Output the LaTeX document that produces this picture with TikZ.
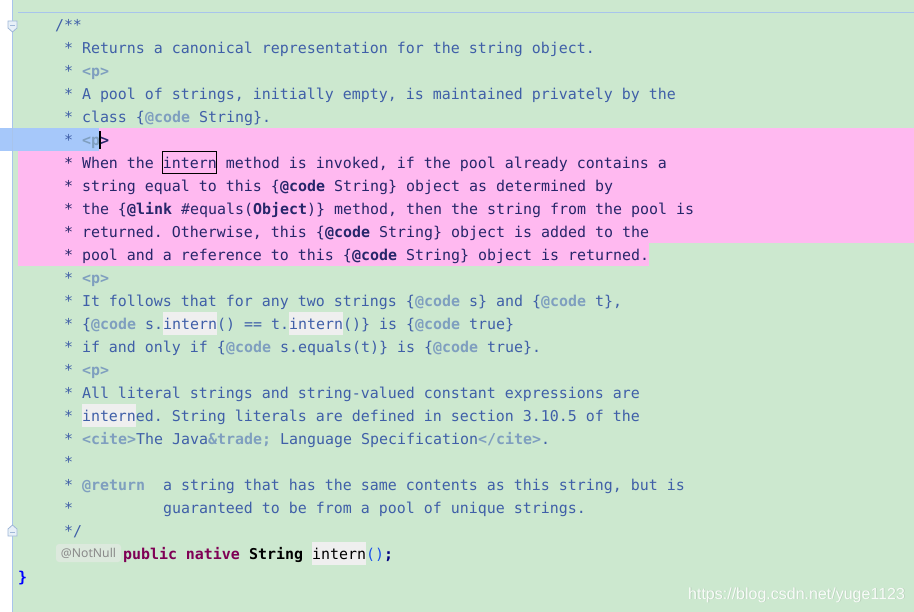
\documentclass[tikz,border=0pt]{standalone}
\usepackage{fontspec}
\setmonofont{DejaVu Sans Mono}
\newfontfamily\badgefont{Noto Sans}
\newfontfamily\wmfont{Liberation Sans}
\definecolor{bgc}{HTML}{CCE8CF}
\definecolor{pinkc}{HTML}{FFB9F0}
\definecolor{selc}{HTML}{A6C8FA}
\definecolor{docc}{HTML}{3F5FA8}
\definecolor{tagc}{HTML}{7F9FBF}
\definecolor{darkc}{HTML}{26266A}
\definecolor{kwc}{HTML}{7F0055}
\definecolor{hlc}{HTML}{EFEFEF}
\definecolor{guidec}{HTML}{A8C4EC}
\definecolor{parc}{HTML}{1750EB}
\definecolor{semic}{HTML}{000080}
\definecolor{bracec}{HTML}{0000FF}
\definecolor{badgec}{HTML}{DCE9DD}
\definecolor{badgetc}{HTML}{8A8A8A}
\definecolor{foldc}{HTML}{A0B8D8}
\definecolor{foldfc}{HTML}{E8F0F8}
\newcommand\codefont{\ttfamily\fontsize{14.95}{18}\selectfont\frenchspacing}
\newcommand\tg[1]{{\color{tagc}\bfseries #1}}
\newcommand\bd[1]{{\bfseries #1}}
\tikzset{
  ln/.style={anchor=base west, inner sep=0pt, outer sep=0pt, font=\codefont, text=docc},
  pk/.style={ln, text=darkc},
  fold/.style={draw=foldc, fill=foldfc, line width=0.8pt},
}
\begin{document}
\begin{tikzpicture}[x=1pt,y=-1pt]
\useasboundingbox (0,0) rectangle (914,612);
% backgrounds
\fill[bgc] (0,0) rectangle (914,612);
\fill[white] (0,0) rectangle (12,612);
\fill[pinkc] (18,128) rectangle (914,243);
\fill[pinkc] (18,243) rectangle (649,266);
\fill[selc] (0,128) rectangle (99,151);
\fill[hlc] (163,312) rectangle (217,335);
\fill[hlc] (289,312) rectangle (343,335);
\fill[hlc] (82,404) rectangle (136,427);
\fill[hlc] (312,542) rectangle (366,565);
% guides
\draw[guidec, line width=1pt] (12.5,0) -- (12.5,612);
\draw[guidec, line width=1pt] (18,12.5) -- (914,12.5);
% fold markers
\draw[fold] (8,21) -- (17,21) -- (17,28) -- (12.5,32) -- (8,28) -- cycle;
\draw[foldc, line width=0.8pt] (10,25) -- (15,25);
\draw[fold] (8,536) -- (17,536) -- (17,529) -- (12.5,525) -- (8,529) -- cycle;
\draw[foldc, line width=0.8pt] (10,532) -- (15,532);
% doc comment
\node[ln] (r0) at (55,30.3) {/**};
\node[ln] (r1) at (64,53.3) {* Returns a canonical representation for the string object.};
\node[ln] (r2) at (64,76.3) {* \tg{<p>}};
\node[ln] (r3) at (64,99.3) {* A pool of strings, initially empty, is maintained privately by the};
\node[ln] (r4) at (64,122.3) {* class \{\tg{@code} String\}.};
\node[ln] (r5) at (64,145.3) {* \tg{<p}{\color{darkc}\bfseries >}};
\fill[black] (98.5,131) rectangle (100.5,149);
\node[pk] (r6) at (64,168.3) {* When the intern method is invoked, if the pool already contains a};
\draw[black, line width=1pt] (162.5,151.5) rectangle (216.5,173.5);
\node[pk] (r7) at (64,191.3) {* string equal to this \{\bd{@code} String\} object as determined by};
\node[pk] (r8) at (64,214.3) {* the \{\bd{@link} \#equals(\bd{Object})\} method, then the string from the pool is};
\node[pk] (r9) at (64,237.3) {* returned. Otherwise, this \{\bd{@code} String\} object is added to the};
\node[pk] (r10) at (64,260.3) {* pool and a reference to this \{\bd{@code} String\} object is returned.};
\node[ln] (r11) at (64,283.3) {* \tg{<p>}};
\node[ln] (r12) at (64,306.3) {* It follows that for any two strings \{\tg{@code} s\} and \{\tg{@code} t\},};
\node[ln] (r13) at (64,329.3) {* \{\tg{@code} s.intern() == t.intern()\} is \{\tg{@code} true\}};
\node[ln] (r14) at (64,352.3) {* if and only if \{\tg{@code} s.equals(t)\} is \{\tg{@code} true\}.};
\node[ln] (r15) at (64,375.3) {* \tg{<p>}};
\node[ln] (r16) at (64,398.3) {* All literal strings and string-valued constant expressions are};
\node[ln] (r17) at (64,421.3) {* interned. String literals are defined in section 3.10.5 of the};
\node[ln] (r18) at (64,444.3) {* \tg{<cite>}The Java\tg{\&trade;} Language Specification\tg{</cite>}.};
\node[ln] (r19) at (64,467.3) {*};
\node[ln] (r20) at (64,490.3) {* \tg{@return}};
\node[ln] (r20b) at (163,490.3) {a string that has the same contents as this string, but is};
\node[ln] (r21) at (64,513.3) {*};
\node[ln] (r21b) at (163,513.3) {guaranteed to be from a pool of unique strings.};
\node[ln] (r22) at (64,536.3) {*/};
% declaration
\node[fill=badgec, rounded corners=3pt, minimum width=65pt, minimum height=18pt, inner sep=0pt,
      font=\badgefont\fontsize{12.2}{14}\selectfont, text=badgetc] (nn) at (88.5,553) {@NotNull};
\node[ln, text=kwc, font=\codefont\bfseries] (kw) at (123,559.3) {public native};
\node[ln, text=black, font=\codefont\bfseries] (ty) at (249,559.3) {String};
\node[ln, text=black] (mn) at (312,559.3) {intern};
\node[ln, text=parc] (pa) at (366,559.3) {()};
\node[ln, text=semic, font=\codefont\bfseries] (se) at (384,559.3) {;};
\node[ln, text=bracec, font=\codefont\bfseries] (cb) at (18,582.3) {\}};
% watermark
\node[anchor=base west, inner sep=0pt, font=\wmfont\fontsize{16}{18}\selectfont, text=black, opacity=0.1] (wms) at (688.8,599.8) {https://blog.csdn.net/yuge1123};
\node[anchor=base west, inner sep=0pt, font=\wmfont\fontsize{16}{18}\selectfont, text=white, opacity=0.9] (wm) at (688,599) {https://blog.csdn.net/yuge1123};
\end{tikzpicture}
\end{document}
